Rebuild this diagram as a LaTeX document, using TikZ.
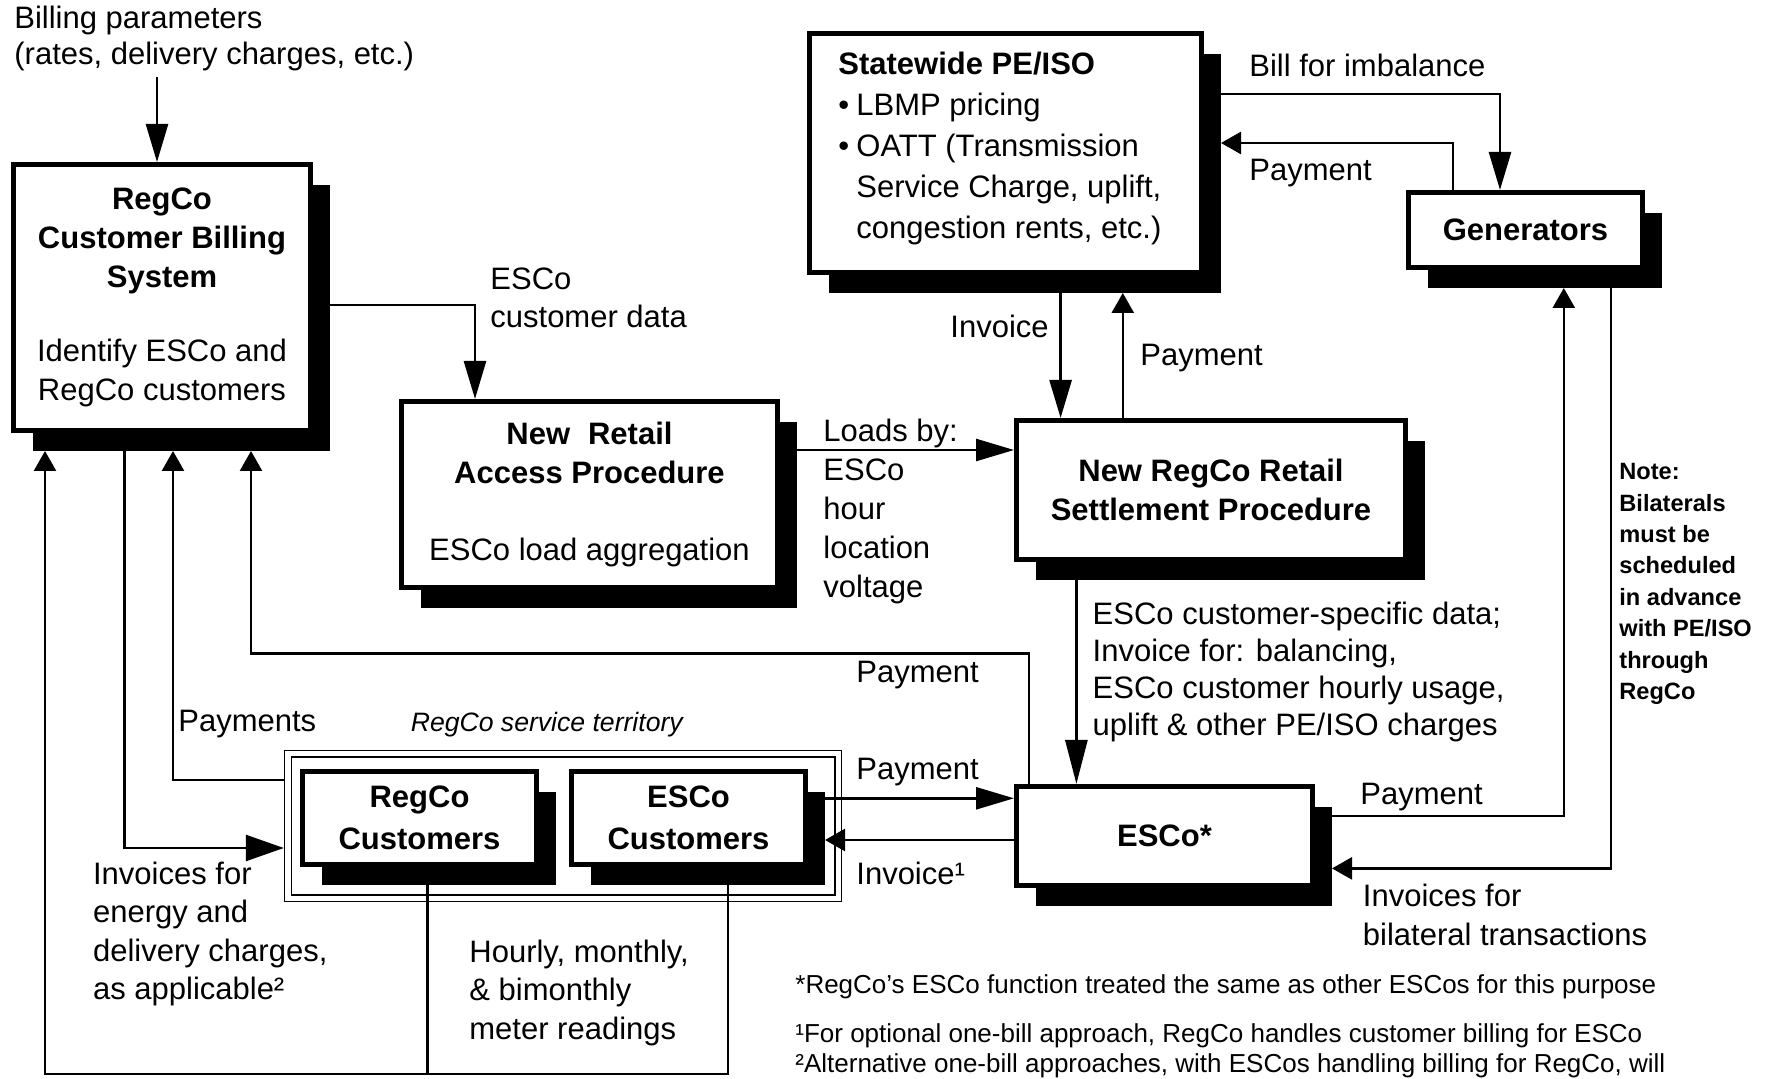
\documentclass[tikz,border=0pt]{standalone}
\usepackage{fontspec}
\setmainfont{Liberation Sans}
\usetikzlibrary{arrows.meta,shadows}
\tikzset{
 bx/.style={draw, line width=2.4pt, fill=white, align=center, inner sep=0pt,
   font=\fontsize{15.5}{19.5}\selectfont,
   drop shadow={shadow xshift=9.7pt,shadow yshift=-10.2pt,fill=black,opacity=1}},
 conn/.style={line width=1.3pt},
 tipL/.style={-{Triangle[length=19pt,width=11pt]}},
 tipW/.style={-{Triangle[length=19pt,width=13pt]}},
 tipX/.style={-{Triangle[length=22pt,width=11pt]}},
 tipS/.style={-{Triangle[length=10pt,width=11pt]}},
 lbl/.style={inner sep=0pt, anchor=west, align=left, font=\fontsize{15.5}{19.5}\selectfont},
 tline/.style={draw, line width=0.8pt, inner sep=0pt},
}
\begin{document}
\begin{tikzpicture}[x=0.5pt,y=-0.5pt]
\useasboundingbox (0,0) rectangle (1773,1079);
\fill[white] (0,0) rectangle (1773,1079);

% boxes
\node[bx, minimum width=148.6pt, minimum height=133.1pt] (rb) at (162,297.5)
  {\textbf{RegCo}\\\textbf{Customer Billing}\\\textbf{System}\\[17.75pt]Identify ESCo and\\RegCo customers};
\node[bx, minimum width=196.1pt, minimum height=119.6pt] (pe) at (1005.5,153) {};
\node[bx, minimum width=117.1pt, minimum height=37.6pt] (gen) at (1525.5,230) {\textbf{Generators}};
\node[bx, minimum width=188.1pt, minimum height=93.1pt] (nra) at (589.5,494.5)
  {\textbf{New\hspace{0.3em} Retail}\\\textbf{Access Procedure}\\[19pt]ESCo load aggregation};
\node[bx, minimum width=194.6pt, minimum height=69.6pt] (rs) at (1211,490)
  {\textbf{New RegCo Retail}\\\textbf{Settlement Procedure}};
\node[bx, minimum width=148.1pt, minimum height=49.6pt] (esco) at (1164.5,836) {\textbf{ESCo*}};

% territory
\node[tline, minimum width=278.5pt, minimum height=75.55pt] (terrO) at (563.1,826) {};
\node[tline, minimum width=271.7pt, minimum height=68.75pt] (terrI) at (563.1,826) {};
\node[bx, minimum width=117.1pt, minimum height=46.6pt,
  font=\fontsize{15.5}{21}\selectfont] (rc) at (419.5,818) {\textbf{RegCo}\\\textbf{Customers}};
\node[bx, minimum width=117.1pt, minimum height=46.6pt,
  font=\fontsize{15.5}{21}\selectfont] (ec) at (688.5,818) {\textbf{ESCo}\\\textbf{Customers}};

% helper coordinates
\coordinate (rbsb) at ([yshift=-9pt]rb.south);
\coordinate (ecsr) at ([xshift=8.5pt]ec.east);
\coordinate (bparr) at (157,77);
\coordinate (pr) at (251,653.5);
\coordinate (botl) at (45,1074);

% connectors
\draw[conn,tipL] (bparr) -- (bparr |- rb.north);
\draw[conn,tipL] ([xshift=8.5pt,yshift=-3.75pt]rb.east) -| ([xshift=-57.25pt]nra.north);
\draw[conn,tipL] ([xshift=8.5pt,yshift=22.25pt]nra.east) coordinate (l1) -- (l1 -| rs.west);
\draw[conn,tipL] ([xshift=27.55pt,yshift=-9pt]pe.south) coordinate (i1) -- (i1 |- rs.north);
\coordinate (p1) at ([xshift=58.65pt,yshift=-9pt]pe.south);
\draw[conn,tipS] (p1 |- rs.north) -- (p1);
\draw[conn,tipL] ([xshift=8.5pt,yshift=29.5pt]pe.east) -| ([xshift=-12.75pt]gen.north);
\draw[conn,tipS] ([xshift=-36.25pt]gen.north) |- ([xshift=8.5pt,yshift=5pt]pe.east);
\draw[conn,tipS] ([xshift=8.5pt,yshift=10pt]esco.east) -| ([xshift=19.15pt,yshift=-9pt]gen.south);
\draw[conn,tipS] ([xshift=42.75pt,yshift=-9pt]gen.south) |- ([xshift=8.5pt,yshift=-16.2pt]esco.east);
\coordinate (d1) at ([xshift=-67.3pt,yshift=-9pt]rs.south);
\draw[conn,tipX] (d1) -- (d1 |- esco.north);
\draw[conn,tipS] ([xshift=-67.75pt]esco.north) |- (pr) -- (pr |- rbsb);
\draw[conn,tipL] ([xshift=8.5pt,yshift=9.85pt]ec.east) coordinate (q1) -- (q1 -| esco.west);
\draw[conn,tipS] ([yshift=-2pt]esco.west) coordinate (iv) -- (iv -| ecsr);
\draw[conn,tipS] ([yshift=23pt]terrO.west) -| ([xshift=5.5pt]rbsb);
\draw[conn,tipW] ([xshift=-18.8pt]rb.south) |- ([yshift=-11pt]terrO.west);
\draw[conn,tipS] ([xshift=3.95pt,yshift=-9pt]rc.south) |- (botl) -- (botl |- rbsb);
\draw[conn] ([xshift=19.75pt,yshift=-9pt]ec.south) |- (botl);

% labels
\node[lbl, font=\fontsize{15.5}{20.5}\selectfont] (pet) at (838,148.5)
  {\textbf{Statewide PE/ISO}\\\makebox[9pt][l]{\textbullet}LBMP pricing\\\makebox[9pt][l]{\textbullet}OATT (Transmission\\\hspace*{9pt}Service Charge, uplift,\\\hspace*{9pt}congestion rents, etc.)};
\node[lbl, font=\fontsize{15.5}{18}\selectfont] (bp) at (14,38) {Billing parameters\\(rates, delivery charges, etc.)};
\node[lbl, font=\fontsize{15.5}{18.8}\selectfont] (ecd) at (490,298) {ESCo\\customer data};
\node[lbl] (loads) at (823,511) {Loads by:\\ESCo\\hour\\location\\voltage};
\node[lbl] (inv) at (950,326) {Invoice};
\node[lbl] (pay1) at (1140,358.4) {Payment};
\node[lbl] (bill) at (1249,65.6) {Bill for imbalance};
\node[lbl] (pay2) at (1249,173) {Payment};
\node[lbl, font=\bfseries\fontsize{11.8}{15.7}\selectfont] (note) at (1619,584)
  {Note:\\Bilaterals\\must be\\scheduled\\in advance\\with PE/ISO\\through\\RegCo};
\node[lbl] (pay3) at (1360,797) {Payment};
\node[lbl, font=\fontsize{15.5}{19.2}\selectfont] (invb) at (1362.5,914.8) {Invoices for\\bilateral transactions};
\node[lbl, font=\fontsize{15.5}{18.5}\selectfont] (data) at (1092.3,671.5)
  {ESCo customer-specific data;\\Invoice for: balancing,\\ESCo customer hourly usage,\\uplift \& other PE/ISO charges};
\node[lbl] (pay4) at (856,675) {Payment};
\node[lbl] (pay5) at (856,772) {Payment};
\node[lbl] (inv1) at (856,873) {Invoice¹};
\node[lbl] (pays) at (178,723.6) {Payments};
\node[lbl, font=\itshape\fontsize{13.3}{16}\selectfont] (terrl) at (410.4,724.8) {RegCo service territory};
\node[lbl, font=\fontsize{15.5}{19.2}\selectfont] (invf) at (92.7,934)
  {Invoices for\\energy and\\delivery charges,\\as applicable²};
\node[lbl, font=\fontsize{15.5}{19.2}\selectfont] (hourly) at (469,992.7)
  {Hourly, monthly,\\\& bimonthly\\meter readings};
\node[lbl, font=\fontsize{13}{15}\selectfont] (fn1) at (795,987) {*RegCo's ESCo function treated the same as other ESCos for this purpose};
\node[lbl, font=\fontsize{13}{15}\selectfont] (fn2) at (795,1035.7) {¹For optional one-bill approach, RegCo handles customer billing for ESCo};
\node[lbl, font=\fontsize{13}{15}\selectfont] (fn3) at (795,1066) {²Alternative one-bill approaches, with ESCos handling billing for RegCo, will};
\end{tikzpicture}
\end{document}
